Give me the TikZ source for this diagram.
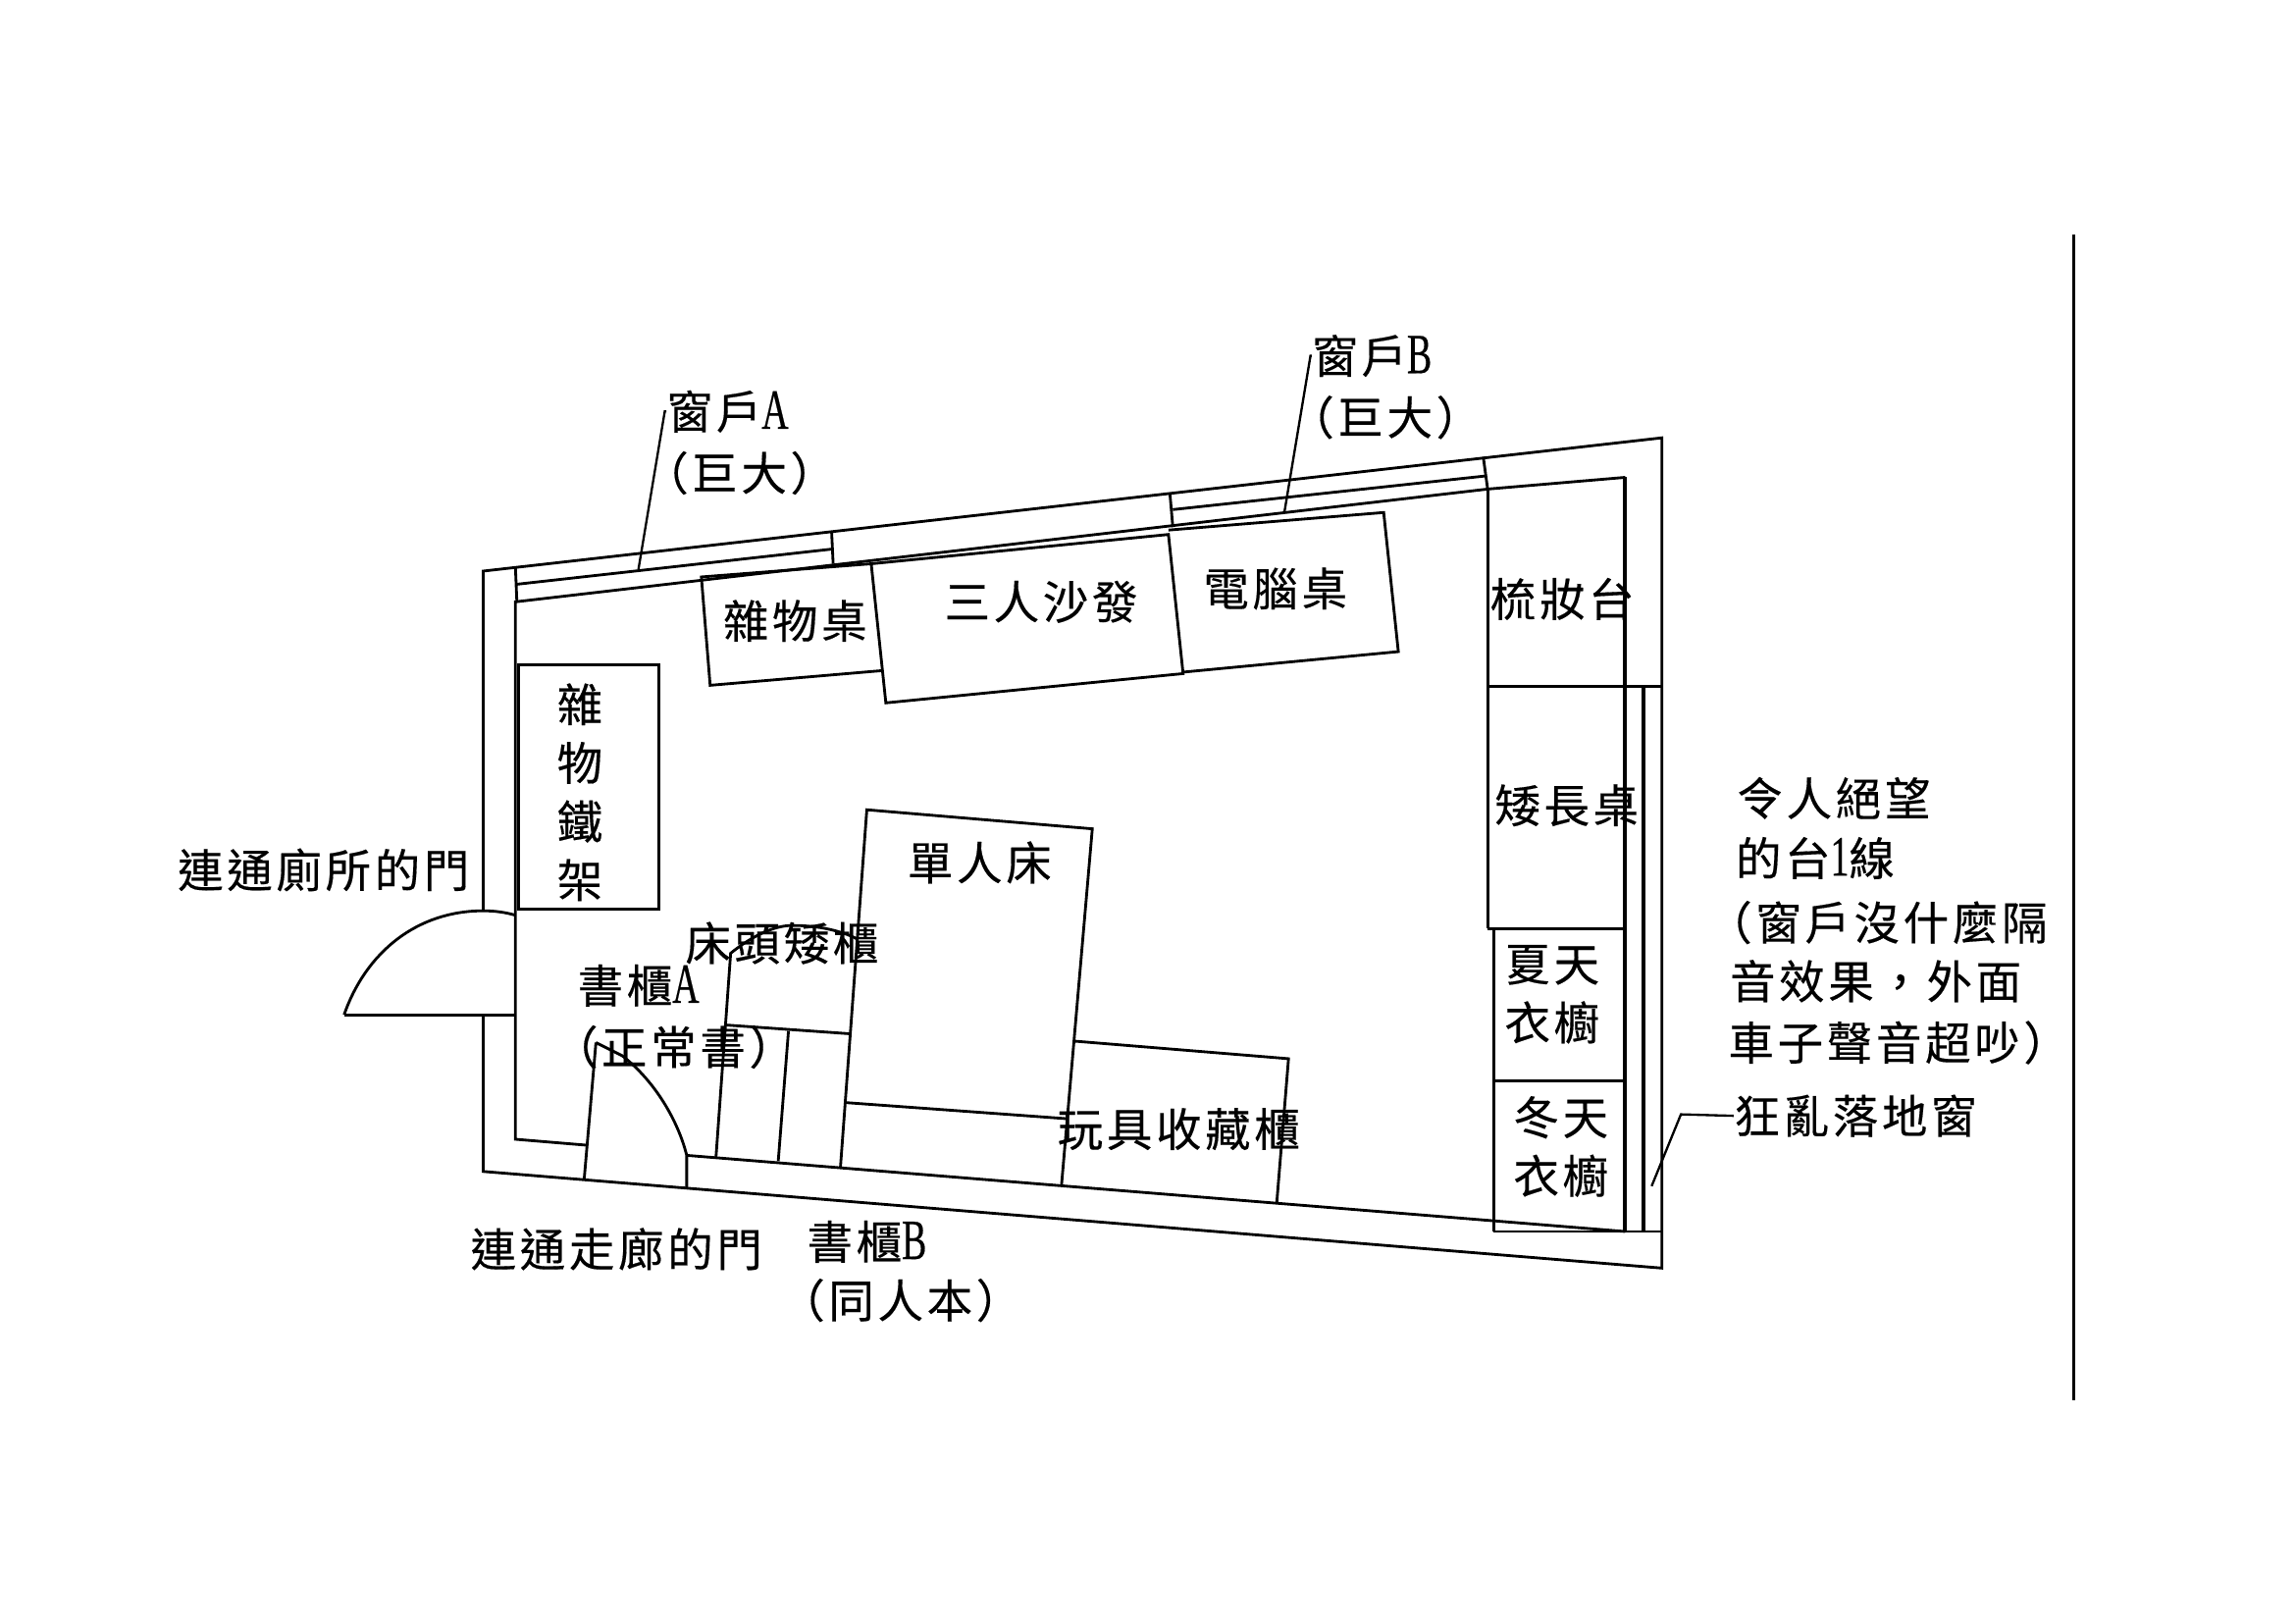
\documentclass[tikz,border=0pt]{standalone}
\usepackage{fontspec}
\usepackage{tikz}

\newfontfamily\cjkfont[LetterSpace=8,FakeBold=0.35]{Noto Sans CJK TC}
\newfontfamily\latinfont[FakeStretch=0.65,FakeBold=0.3,Scale=1.25]{Liberation Serif}

% full width brackets and comma
\newcommand{\openpar}{\symbol{"FF08}}
\newcommand{\closepar}{\symbol{"FF09}}
\newcommand{\widecomma}{\symbol{"FF0C}}

\tikzset{
  wall/.style={line width=0.85pt},
  heavy/.style={line width=1.2pt},
  thin/.style={line width=0.7pt},
  label/.style={inner sep=0pt,font=\cjkfont\fontsize{14}{18}\selectfont}
}

\begin{document}
\begin{tikzpicture}[x=0.45pt,y=-0.45pt]

\useasboundingbox (0,0) rectangle (1567.4,1108.4);

% outer wall, left side has a gap for the door
\draw[wall] (330,622) -- (330,390) -- (1135,299) -- (1135,866) -- (330,800) -- (330,693);

% inner wall
\draw[wall] (407,712) -- (399,805);
\draw[wall] (400,782) -- (352,778) -- (352,411) -- (1016,334) -- (1110,326);
\draw[wall] (469,789) -- (1110,841);
\draw[heavy] (1110,326) -- (1110,841);

% windows A and B
\draw[wall] (352,387) -- (353,411);
\draw[wall] (353,399) -- (568,375);
\draw[wall] (568,364) -- (569,385);
\draw[wall] (799,337) -- (801,360);
\draw[wall] (801,348) -- (1015,325);
\draw[wall] (1013,312) -- (1016,334);

% toilet door
\draw[wall] (235,693) -- (352,693);
\draw[wall] (235,693) .. controls (250,650) and (285,622) .. (330,622)
  .. controls (338,622) and (345,623) .. (352,625);

% corridor door
\draw[wall] (407,712) -- (425,721) .. controls (447,738) and (463,765) .. (469,789) -- (469,812);

% right side cabinets
\draw[wall] (1016,334) -- (1016,634);
\draw[wall] (1016,469) -- (1135,469);
\draw[wall] (1016,634) -- (1110,634);
\draw[wall] (1020,634) -- (1020,841);
\draw[wall] (1020,738) -- (1110,738);
\draw[wall] (1020,841) -- (1135,841);
\draw[heavy] (1122.5,469) -- (1122.5,841);

% top furniture
\draw[wall] (595,385) -- (479,394) -- (485,468) -- (602,458);
\draw[wall] (595,385) -- (605,480) -- (808,460) -- (798,365) -- cycle;
\draw[wall] (798,362) -- (945,350) -- (955,445) -- (808,459);

% iron rack
\draw[wall] (354,454) rectangle (450,621);

% bed
\draw[wall] (574,797) -- (592,553) -- (746,566) -- (725,809);
\draw[wall] (578,753) -- (729,764);

% bedside cabinet and bookcase A
\draw[wall] (489,790) -- (499,651) .. controls (515,638) and (530,632) .. (541,632)
  .. controls (560,632) and (575,636) .. (585,641);
\draw[wall] (496,700) -- (581,706);
\draw[wall] (538.5,704) -- (531.5,793);

% toy cabinet
\draw[wall] (734,711) -- (880,723) -- (872,821);

% side line
\draw[wall] (1416,160) -- (1416,956);

% labels
\node[label] (windowa) at (497,281) {窗戶{\latinfont A}};
\node[label] (windowa size) at (505,323) {\openpar 巨大\closepar};
\node[label] (windowb) at (937,243) {窗戶{\latinfont B}};
\node[label] (windowb size) at (946,285) {\openpar 巨大\closepar};
\node[label] (sundry desk) at (543,424) {雜物桌};
\node[label] (sofa) at (711,411) {三人沙發};
\node[label] (computer desk) at (871,402) {電腦桌};
\node[label] (dresser) at (1067,409) {梳妝台};
\node[label] (low desk) at (1070,550) {矮長桌};
\node[label,align=center] (summer) at (1060,679) {夏天\\衣櫥};
\node[label,align=center] (winter) at (1066,783) {冬天\\衣櫥};
\node[label,anchor=west] (road) at (1186,545) {令人絕望};
\node[label,anchor=west] (road1) at (1185,586) {的台{\latinfont 1}線};
\node[label,anchor=west] (road2) at (1165,630) {\openpar 窗戶沒什麼隔};
\node[label,anchor=west] (road3) at (1181,670) {音效果\widecomma 外面};
\node[label,anchor=west] (road4) at (1180,712) {車子聲音超吵\closepar};
\node[label,anchor=west] (french window) at (1184,762) {狂亂落地窗};
\node[label] (bed) at (669,589) {單人床};
\node[label] (bedside) at (534,644) {床頭矮櫃};
\node[label] (bookcasea) at (436,673) {書櫃{\latinfont A}};
\node[label] (bookcasea kind) at (460,715) {\openpar 正常書\closepar};
\node[label] (bookcaseb) at (592,848) {書櫃{\latinfont B}};
\node[label] (bookcaseb kind) at (615,888) {\openpar 同人本\closepar};
\node[label] (toys) at (805,771) {玩具收藏櫃};
\node[label] (toilet door) at (221,594) {連通廁所的門};
\node[label] (corridor door) at (421,853) {連通走廊的門};
\node[label,align=center] (rack) at (396,541) {雜\\物\\鐵\\架};

% leaders
\coordinate (windowa end) at (436,389);
\coordinate (windowa knee) at (454,281);
\coordinate (windowb end) at (877,351);
\coordinate (windowb knee) at (895,243);
\coordinate (french end) at (1128,810);
\coordinate (french knee) at (1148,761);
\draw[thin] (windowa end) -- (windowa knee) -- (windowa.west);
\draw[thin] (windowb end) -- (windowb knee) -- (windowb.west);
\draw[thin] (french end) -- (french knee) -- (french window.west);

\end{tikzpicture}
\end{document}
